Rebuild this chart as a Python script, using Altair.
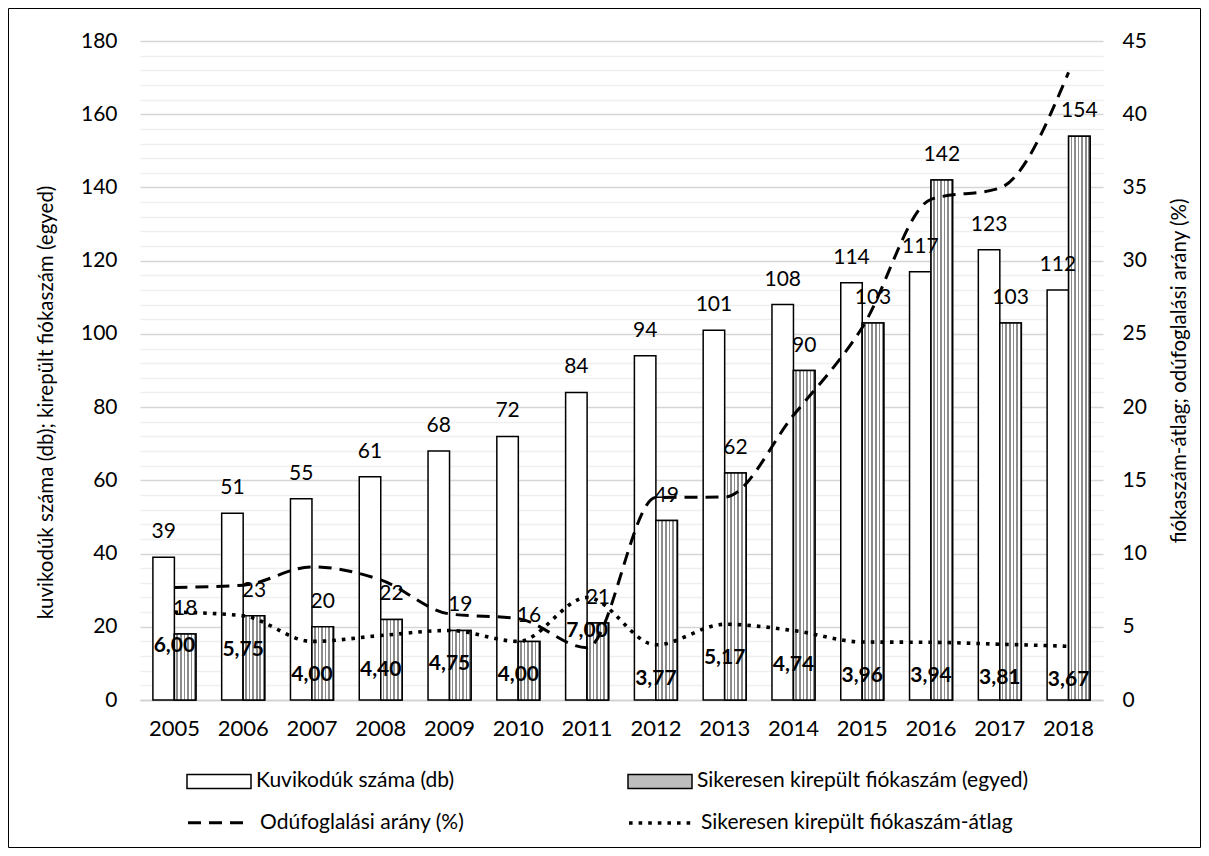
import altair as alt
import pandas as pd

# ---------------- data ----------------
years = [str(y) for y in range(2005, 2019)]
boxes = [39, 51, 55, 61, 68, 72, 84, 94, 101, 108, 114, 117, 123, 112]
fledged = [18, 23, 20, 22, 19, 16, 21, 49, 62, 90, 103, 142, 103, 154]
occupancy = [7.69, 7.84, 9.09, 8.20, 5.88, 5.56, 3.57, 13.83, 13.86, 19.44, 25.44, 34.19, 34.96, 42.86]
avg_fledged = [6.00, 5.75, 4.00, 4.40, 4.75, 4.00, 7.00, 3.77, 5.17, 4.74, 3.96, 3.94, 3.81, 3.67]

S_BOX = "Kuvikodúk száma (db)"
S_FLED = "Sikeresen kirepült fiókaszám (egyed)"
S_OCC = "Odúfoglalási arány (%)"
S_AVG = "Sikeresen kirepült fiókaszám-átlag"

left_title = "kuvikodúk száma (db); kirepült fiókaszám (egyed)"
right_title = "fiókaszám-átlag; odúfoglalási arány (%)"

bars_df = pd.DataFrame({
    "year": years * 2,
    "series": [S_BOX] * len(years) + [S_FLED] * len(years),
    "value": boxes + fledged,
})
lines_df = pd.DataFrame({
    "year": years * 2,
    "series": [S_OCC] * len(years) + [S_AVG] * len(years),
    "value": occupancy + avg_fledged,
})
avg_df = pd.DataFrame({"year": years, "avg": avg_fledged})
fled_df = pd.DataFrame({"year": years, "series": [S_FLED] * len(years), "value": fledged})

FONT = "Lato"
W, H = 963, 659
PAD = {"left": 132, "top": 33, "right": 98, "bottom": 148}

# stripe texture approximating the dotted pattern fill
stops = []
n = 6
for k in range(n):
    a = k / n
    stops += [
        {"offset": a, "color": "#ffffff"},
        {"offset": a + 0.55 / n, "color": "#ffffff"},
        {"offset": a + 0.55 / n, "color": "#8c8c8c"},
        {"offset": a + 1.0 / n, "color": "#8c8c8c"},
    ]
stripes = {"gradient": "linear", "x1": 0, "x2": 1, "y1": 0, "y2": 0, "stops": stops}

x_enc = alt.X(
    "year:O",
    scale=alt.Scale(paddingInner=0.375, paddingOuter=0.1875),
    axis=alt.Axis(title=None, labelAngle=0, ticks=False, domainColor="#d0d0d0",
                  domainWidth=1.5, labelPadding=18, labelFontSize=22, labelColor="black"),
)
xoff = alt.XOffset("series:N", scale=alt.Scale(domain=[S_BOX, S_FLED], paddingInner=0, paddingOuter=0))

y_left = alt.Y(
    "value:Q",
    scale=alt.Scale(domain=[0, 180], nice=False),
    axis=alt.Axis(
        title=left_title, values=list(range(0, 181, 4)), tickCount=100, format=".0f",
        labelExpr="datum.value % 20 == 0 ? datum.label : ''", labelOverlap=False,
        gridColor={"condition": {"test": "datum.value % 20 == 0", "value": "#d6d6d6"}, "value": "#efefef"},
        gridWidth=1.5, ticks=False, domain=False, labelPadding=23,
        labelFontSize=21, labelColor="black", titleFontSize=20.5, titleFontWeight="normal",
        titleColor="black", titlePadding=24, titleY=361,
    ),
)

bars = alt.Chart(bars_df).mark_bar(stroke="black", strokeWidth=1.5).encode(
    x=x_enc,
    xOffset=xoff,
    y=y_left,
    fill=alt.Fill(
        "series:N",
        scale=alt.Scale(domain=[S_BOX, S_FLED], range=["#ffffff", "#bdbdbd"]),
        legend=alt.Legend(
            orient="none", legendX=46, legendY=707, columns=2, columnPadding=170,
            title=None, symbolType="M-1,-0.22H1V0.22H-1Z", symbolSize=4096,
            symbolStrokeColor="black", symbolStrokeWidth=1.5, labelOffset=4,
            labelFontSize=21, labelColor="black", labelFont=FONT, labelLimit=600,
        ),
    ),
)

pattern = alt.Chart(fled_df).mark_bar(stroke="black", strokeWidth=1.5, fill=stripes).encode(
    x=x_enc, xOffset=xoff, y=alt.Y("value:Q"),
)

bar_labels = alt.Chart(bars_df).mark_text(dy=-25, fontSize=21, font=FONT, color="black", baseline="middle").encode(
    x=x_enc, xOffset=xoff, y=alt.Y("value:Q"), text=alt.Text("value:Q"),
)

left = alt.layer(bars, pattern, bar_labels)

y_right = alt.Y(
    "value:Q",
    scale=alt.Scale(domain=[0, 45], nice=False),
    axis=alt.Axis(
        orient="right", title=right_title, values=list(range(0, 46, 5)), tickCount=100,
        format=".0f", grid=False,
        ticks=False, domain=False, labelPadding=19, labelFontSize=21, labelColor="black",
        labelOverlap=False, titleFontSize=20.5, titleFontWeight="normal", titleColor="black",
        titleAngle=270, titleBaseline="top", titlePadding=23,
    ),
)

lines = alt.Chart(lines_df).mark_line(color="black", interpolate="monotone").encode(
    x=alt.X("year:O"),
    y=y_right,
    strokeWidth=alt.StrokeWidth("series:N", scale=alt.Scale(domain=[S_OCC, S_AVG], range=[3, 3.6]), legend=None),
    strokeDash=alt.StrokeDash(
        "series:N",
        scale=alt.Scale(domain=[S_OCC, S_AVG], range=[[13, 8], [3.6, 6]]),
        legend=alt.Legend(
            orient="none", legendX=46, legendY=749, columns=2, columnPadding=156,
            title=None, symbolType="stroke", symbolSize=3844, symbolStrokeColor="black",
            symbolStrokeWidth=3.4, labelOffset=8, labelFontSize=21, labelColor="black",
            labelFont=FONT, labelLimit=600,
        ),
    ),
)

avg_labels = alt.Chart(avg_df).transform_calculate(
    lbl="replace(format(datum.avg, '.2f'), '.', ',')"
).mark_text(dy=34, fontSize=21, fontWeight="bold", font=FONT, color="black", baseline="middle").encode(
    x=alt.X("year:O"), y=alt.Y("avg:Q"), text="lbl:N",
)

right = alt.layer(lines, avg_labels)

border = alt.Chart(pd.DataFrame({"a": [0]})).mark_rect(
    fillOpacity=0, stroke="black", strokeWidth=1
).encode(
    x=alt.value(-131.5), x2=alt.value(W + 97.5), y=alt.value(-32.5), y2=alt.value(H + 147.5)
)

chart = alt.layer(left, right, border).resolve_scale(y="independent").properties(
    width=W, height=H, padding=PAD, autosize=alt.AutoSizeParams(type="none"),
).configure(font=FONT).configure_view(stroke=None).configure_axis(labelFont=FONT, titleFont=FONT)

chart.save("out.html", embed_options={"renderer": "svg", "actions": False})
